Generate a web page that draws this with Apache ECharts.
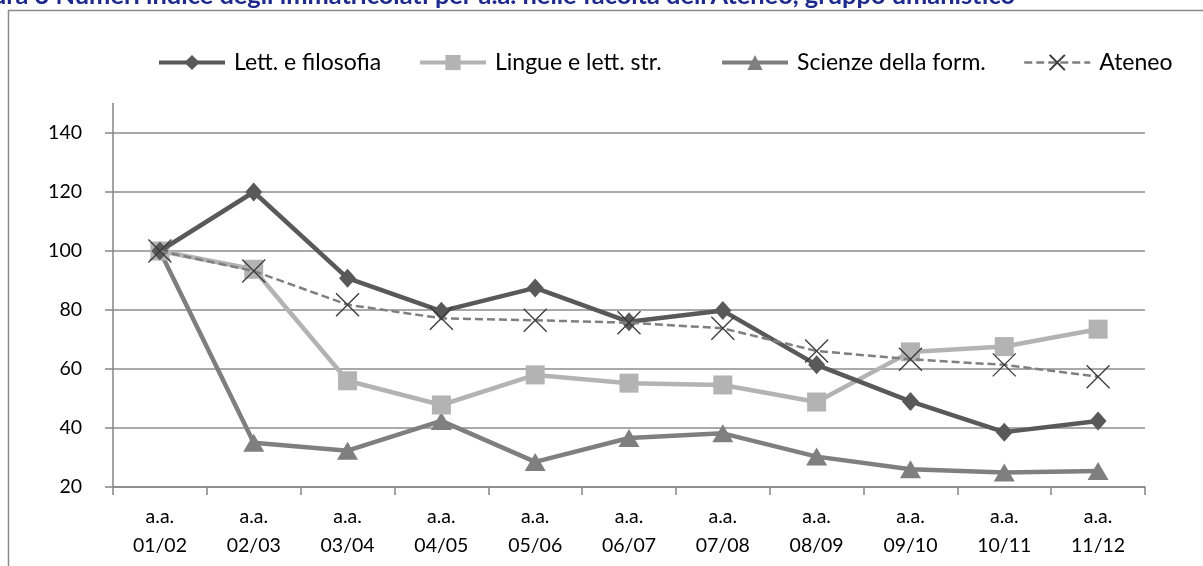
<!DOCTYPE html>
<html>
<head>
<meta charset="utf-8">
<script src="https://cdn.jsdelivr.net/npm/echarts@6/dist/echarts.min.js"></script>
<style>
  html, body { margin: 0; padding: 0; background: #fff; }
  #chart { width: 1203px; height: 566px; }
</style>
</head>
<body>
<div id="chart"></div>
<script>
// Academic years (category axis)
const years = ['01/02', '02/03', '03/04', '04/05', '05/06', '06/07', '07/08', '08/09', '09/10', '10/11', '11/12'];

// Enrolment index numbers (base 01/02 = 100)
const lettFilosofia = [100, 120, 90.8, 79.6, 87.5, 76, 79.8, 61.4, 49, 38.6, 42.4];
const lingueLett    = [100, 93.8, 56, 47.8, 58, 55.2, 54.6, 48.8, 65.8, 67.6, 73.5];
const scienzeForm   = [100, 35, 32.3, 42.4, 28.5, 36.6, 38.2, 30.3, 26, 24.9, 25.4];
const ateneo        = [100, 93.2, 81.8, 77.2, 76.5, 75.7, 73.8, 66.1, 63.3, 61.4, 57.4];

// Value axis ticks
const yTicks = [20, 40, 60, 80, 100, 120, 140];

const seriesNames = ['Lett. e filosofia', 'Lingue e lett. str.', 'Scienze della form.', 'Ateneo'];
const titleText = "Figura 3 Numeri indice degli immatricolati per a.a. nelle facoltà dell'Ateneo, gruppo umanistico";

const FONT = 'Lato, "Open Sans", sans-serif';
const crossPath = 'path://M0,0L10,10M10,0L0,10';

// One legend block per series, each starting at its own x position
const legendLefts = [152, 413, 715, 1018];
const legends = seriesNames.map((name, i) => ({
  left: legendLefts[i],
  top: 46,
  itemWidth: 66,
  itemHeight: 19,
  lineStyle: i === 3 ? { width: 2.5 } : { width: 4 },
  textStyle: { fontFamily: FONT, fontSize: 23, color: '#000', padding: [0, 0, 0, 4] },
  data: [name]
}));

const chart = echarts.init(document.getElementById('chart'), null, { renderer: 'canvas' });

chart.setOption({
  animation: false,
  backgroundColor: '#ffffff',
  graphic: [
    {
      type: 'text',
      x: 1015,
      y: -4,
      style: {
        text: titleText,
        font: 'bold 25.4px ' + FONT,
        fill: '#1f2b8c',
        align: 'right',
        verticalAlign: 'middle'
      },
      z: 10
    },
    {
      type: 'rect',
      shape: { x: 8.5, y: 10.5, width: 1300, height: 700 },
      style: { fill: 'none', stroke: '#8a8a8a', lineWidth: 1.5 },
      silent: true,
      z: 0
    }
  ],
  legend: legends,
  grid: {
    left: 113,
    right: 58,
    top: 103.5,
    bottom: 79,
    containLabel: false
  },
  xAxis: {
    type: 'category',
    data: years,
    boundaryGap: true,
    axisLine: { lineStyle: { color: '#868686', width: 1.5 } },
    axisTick: { show: true, length: 8, inside: false, lineStyle: { color: '#868686', width: 1.5 } },
    axisLabel: {
      interval: 0,
      margin: 15,
      fontFamily: FONT,
      fontSize: 19.5,
      lineHeight: 29,
      color: '#000',
      formatter: v => 'a.a.\n' + v
    },
    splitLine: { show: false }
  },
  yAxis: {
    type: 'value',
    min: yTicks[0],
    max: 150,
    interval: yTicks[1] - yTicks[0],
    axisLine: { show: true, lineStyle: { color: '#868686', width: 1.5 } },
    axisTick: { show: true, length: 8, inside: false, lineStyle: { color: '#868686', width: 1.5 } },
    axisLabel: {
      margin: 31,
      fontFamily: FONT,
      fontSize: 19.5,
      color: '#000',
      showMaxLabel: false,
      formatter: v => (yTicks.indexOf(v) >= 0 ? String(v) : '')
    },
    splitLine: { show: true, showMaxLine: false, lineStyle: { color: '#8c8c8c', width: 1.5 } }
  },
  series: [
    {
      name: seriesNames[0],
      type: 'line',
      data: lettFilosofia,
      symbol: 'diamond',
      symbolSize: [17, 19],
      lineStyle: { color: '#595959', width: 4.5 },
      itemStyle: { color: '#595959' },
      z: 4
    },
    {
      name: seriesNames[1],
      type: 'line',
      data: lingueLett,
      symbol: 'rect',
      symbolSize: 19,
      lineStyle: { color: '#b3b3b3', width: 4.5 },
      itemStyle: { color: '#b3b3b3' },
      z: 3
    },
    {
      name: seriesNames[2],
      type: 'line',
      data: scienzeForm,
      symbol: 'triangle',
      symbolSize: [21, 18],
      lineStyle: { color: '#7f7f7f', width: 4.5 },
      itemStyle: { color: '#7f7f7f' },
      z: 2
    },
    {
      name: seriesNames[3],
      type: 'line',
      data: ateneo,
      symbol: crossPath,
      symbolSize: 23,
      lineStyle: { color: '#7f7f7f', width: 2.5, type: [8, 4] },
      itemStyle: { color: 'rgba(0,0,0,0)', borderColor: '#3a3a3a', borderWidth: 1.3 },
      z: 5
    }
  ]
});
</script>
</body>
</html>
